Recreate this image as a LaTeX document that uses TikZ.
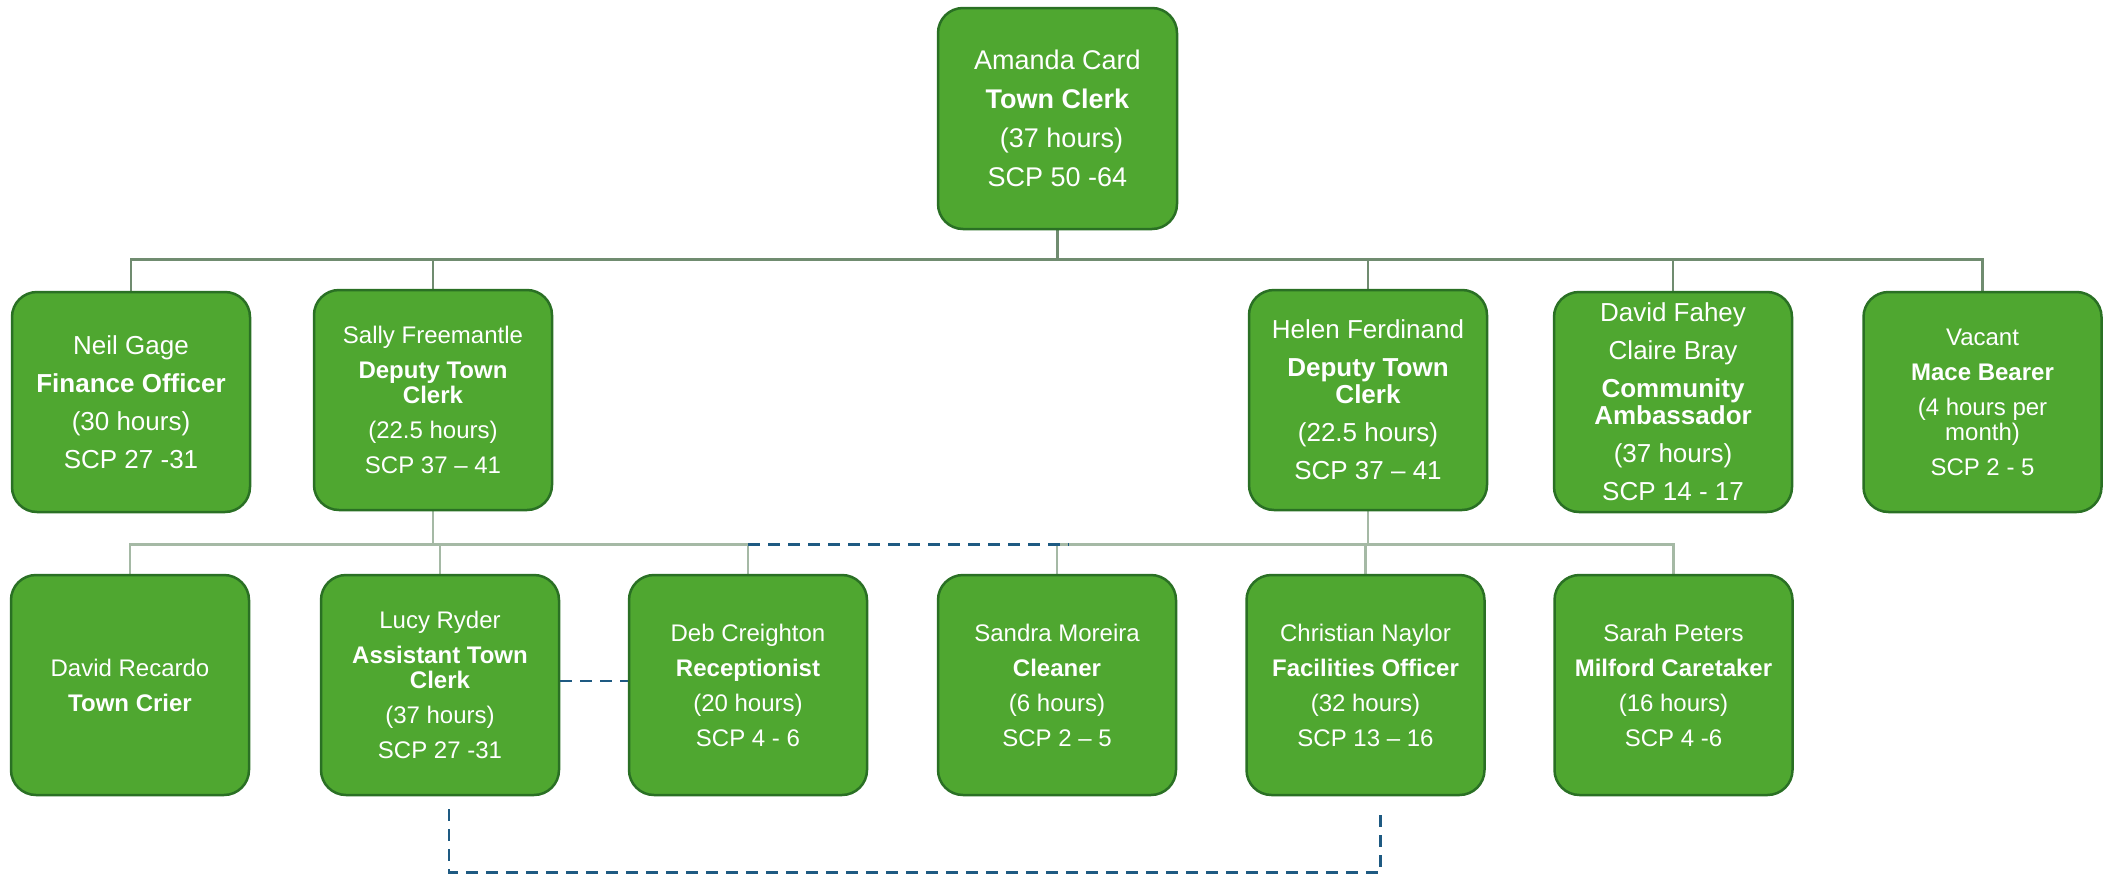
\documentclass[tikz,border=0pt]{standalone}
\usepackage{fontspec}
\setmainfont{Liberation Sans}
\usetikzlibrary{calc,backgrounds}
\definecolor{boxfill}{RGB}{79,167,48}
\definecolor{boxedge}{RGB}{42,112,36}
\definecolor{lineA}{RGB}{112,140,112}
\definecolor{lineB}{RGB}{165,185,165}
\definecolor{dashblue}{RGB}{30,90,130}
\begin{document}
\begin{tikzpicture}[x=1pt,y=-1pt,
 box/.style={draw=boxedge, line width=2.5pt, fill=boxfill, rounded corners=25pt,
   minimum width=238pt, minimum height=220pt, text=white, align=center, inner sep=0pt,
   font=\fontsize{24}{25}\selectfont},
 big/.style={font=\fontsize{26}{27}\selectfont},
 huge/.style={font=\fontsize{27}{28}\selectfont},
 conn/.style={draw=lineA, line width=2.5pt},
 conn2/.style={draw=lineB, line width=2.5pt},
 rel/.style={draw=dashblue, line width=2.5pt, dash pattern=on 12pt off 8pt},
]
\useasboundingbox (0,0) rectangle (2110,873);

% top
\node[box,huge,minimum width=239pt,minimum height=221pt] (top) at (1057.5,118.5)
 {Amanda Card\\[11pt]\textbf{Town Clerk}\\[11pt]\hspace{8pt}(37 hours)\\[11pt]SCP 50 -64};

% level 2
\node[box,big] (neil) at (131,402)
 {Neil Gage\\[11pt]\textbf{Finance Officer}\\[11pt](30 hours)\\[11pt]SCP 27 -31};
\node[box] (sally) at (433,400)
 {Sally Freemantle\\[10pt]\textbf{Deputy Town}\\\textbf{Clerk}\\[10pt](22.5 hours)\\[10pt]SCP 37 – 41};
\node[box,big] (helen) at (1368,400)
 {Helen Ferdinand\\[11pt]\textbf{Deputy Town}\\\textbf{Clerk}\\[11pt](22.5 hours)\\[11pt]SCP 37 – 41};
\node[box,big] (fahey) at (1673,402)
 {David Fahey\\[11pt]Claire Bray\\[11pt]\textbf{Community}\\\textbf{Ambassador}\\[11pt](37 hours)\\[11pt]SCP 14 - 17};
\node[box] (vacant) at (1982.5,402)
 {Vacant\\[10pt]\textbf{Mace Bearer}\\[10pt](4 hours per\\month)\\[10pt]SCP 2 - 5};

% level 3
\node[box] (recardo) at (130,685)
 {David Recardo\\[10pt]\textbf{Town Crier}};
\node[box] (lucy) at (440,685)
 {Lucy Ryder\\[10pt]\textbf{Assistant Town}\\\textbf{Clerk}\\[10pt](37 hours)\\[10pt]SCP 27 -31};
\node[box] (deb) at (748,685)
 {Deb Creighton\\[10pt]\textbf{Receptionist}\\[10pt](20 hours)\\[10pt]SCP 4 - 6};
\node[box] (sandra) at (1057,685)
 {Sandra Moreira\\[10pt]\textbf{Cleaner}\\[10pt](6 hours)\\[10pt]SCP 2 – 5};
\node[box] (christian) at (1365.5,685)
 {Christian Naylor\\[10pt]\textbf{Facilities Officer}\\[10pt](32 hours)\\[10pt]SCP 13 – 16};
\node[box] (sarah) at (1673.5,685)
 {Sarah Peters\\[10pt]\textbf{Milford Caretaker}\\[10pt](16 hours)\\[10pt]SCP 4 -6};

\begin{scope}[on background layer]
 \path (top.south) ++(0,29) coordinate (tbar);
 \draw[conn] (top.south) -- (tbar);
 \draw[conn] (tbar) -| (neil.north);
 \draw[conn] (tbar) -| (sally.north);
 \draw[conn] (tbar) -| (helen.north);
 \draw[conn] (tbar) -| (fahey.north);
 \draw[conn] (tbar) -| (vacant.north);

 \path (sally.south) ++(0,33) coordinate (sbar);
 \draw[conn2] (sally.south) -- (sbar);
 \draw[conn2] (sbar) -| (recardo.north);
 \draw[conn2] (sbar) -| (lucy.north);
 \draw[conn2] (sbar) -| (deb.north);

 \path (helen.south) ++(0,33) coordinate (hbar);
 \draw[conn2] (helen.south) -- (hbar);
 \draw[conn2] (hbar) -| (sandra.north);
 \draw[conn2] (hbar) -| (christian.north);
 \draw[conn2] (hbar) -| (sarah.north);
\end{scope}

\coordinate (dA) at (deb.north |- sbar);
\coordinate (dB) at ($(sandra.north |- sbar)+(12,0)$);
\draw[rel] (dA) -- (dB);
\draw[rel] ($(lucy.east)+(0,-4)$) -- ($(deb.west)+(0,-4)$);
\coordinate (lA) at ($(lucy.south)+(9,13)$);
\coordinate (cA) at ($(christian.south)+(15,13)$);
\draw[rel] (lA) -- ++(0,63) -| (cA);
\end{tikzpicture}
\end{document}
